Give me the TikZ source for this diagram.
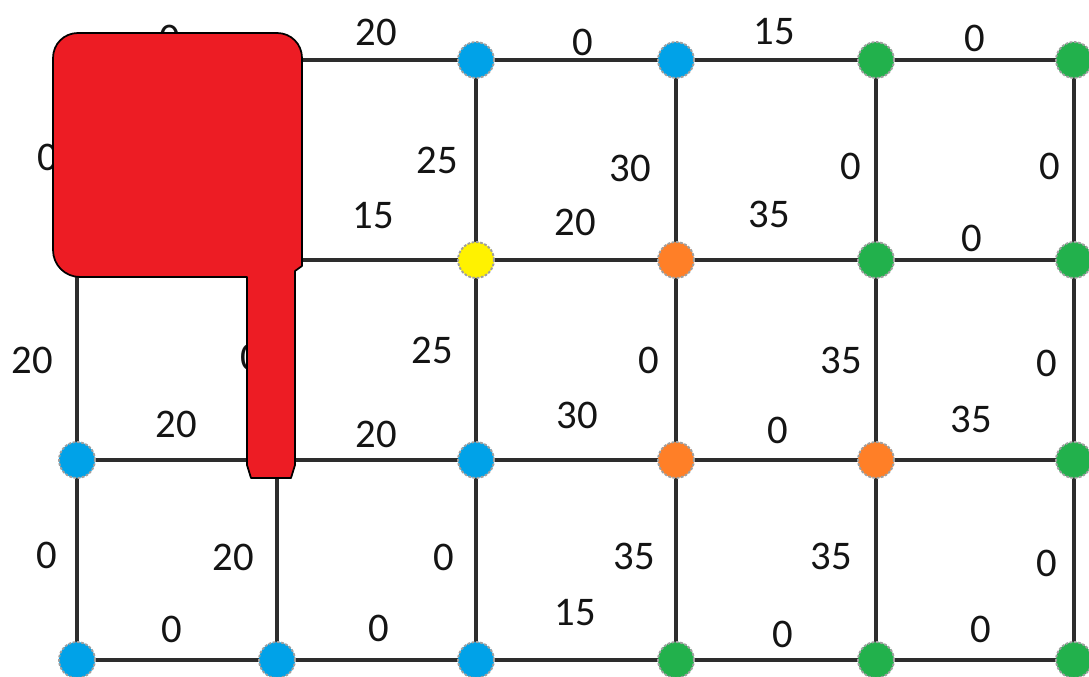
\documentclass[tikz,border=0pt]{standalone}
\usepackage{fontspec}
\setmainfont{Carlito}
\usetikzlibrary{backgrounds}
\definecolor{pblue}{RGB}{0,162,232}
\definecolor{pgreen}{RGB}{34,177,76}
\definecolor{porange}{RGB}{255,127,39}
\definecolor{pyellow}{RGB}{255,242,0}
\definecolor{pred}{RGB}{237,28,36}
\definecolor{edgegray}{RGB}{45,45,45}
\definecolor{txt}{RGB}{20,20,20}
\begin{document}
\begin{tikzpicture}[x=0.75pt,y=-0.75pt,
  vtx/.style={circle,minimum size=27pt,inner sep=0pt,outer sep=0pt,fill=#1,draw=gray!75,line width=1.4pt,dash pattern=on 2pt off 1.2pt},
  conn/.style={draw=edgegray,line width=2.5pt},
  lbl/.style={inner sep=0pt,text=txt,font=\fontsize{30.5pt}{36pt}\selectfont},
  blob/.style={fill=pred,draw=black,line width=1.3pt,line join=round}]
\useasboundingbox (0,0) rectangle (1089,677);
% hidden grid points (under the red shape)
\coordinate (n00) at (77,60);
\coordinate (n10) at (277,60);
\coordinate (n01) at (77,260);
\coordinate (n11) at (277,260);
\coordinate (n12) at (277,460);
% visible vertices
\node[vtx=pblue]   (n20) at (476,60) {};
\node[vtx=pblue]   (n30) at (676,60) {};
\node[vtx=pgreen]  (n40) at (876,60) {};
\node[vtx=pgreen]  (n50) at (1074,60) {};
\node[vtx=pyellow] (n21) at (476,260) {};
\node[vtx=porange] (n31) at (676,260) {};
\node[vtx=pgreen]  (n41) at (876,260) {};
\node[vtx=pgreen]  (n51) at (1074,260) {};
\node[vtx=pblue]   (n02) at (77,460) {};
\node[vtx=pblue]   (n22) at (476,460) {};
\node[vtx=porange] (n32) at (676,460) {};
\node[vtx=porange] (n42) at (876,460) {};
\node[vtx=pgreen]  (n52) at (1074,460) {};
\node[vtx=pblue]   (n03) at (77,660) {};
\node[vtx=pblue]   (n13) at (277,660) {};
\node[vtx=pblue]   (n23) at (476,660) {};
\node[vtx=pgreen]  (n33) at (676,660) {};
\node[vtx=pgreen]  (n43) at (876,660) {};
\node[vtx=pgreen]  (n53) at (1074,660) {};
% connectors
\begin{scope}[on background layer]
\fill[white] (0,0) rectangle (1089,677);
\foreach \r in {0,1,2,3}{
  \foreach \c/\d in {0/1,1/2,2/3,3/4,4/5}{
    \draw[conn] (n\c\r) -- (n\d\r);
  }
}
\foreach \c in {0,1,2,3,4,5}{
  \foreach \r/\s in {0/1,1/2,2/3}{
    \draw[conn] (n\c\r) -- (n\c\s);
  }
}
\end{scope}
% labels
\node[lbl] (l1) at (170,38) {0};
\node[lbl] (l2) at (376,32) {20};
\node[lbl] (l3) at (583,42) {0};
\node[lbl] (l4) at (774,32) {15};
\node[lbl] (l5) at (975,38) {0};
\node[lbl] (l6) at (48,157) {0};
\node[lbl] (l7) at (437,160) {25};
\node[lbl] (l8) at (630,168) {30};
\node[lbl] (l9) at (851,166) {0};
\node[lbl] (l10) at (1050,166) {0};
\node[lbl] (l11) at (373,216) {15};
\node[lbl] (l12) at (575,222) {20};
\node[lbl] (l13) at (769,214) {35};
\node[lbl] (l14) at (972,238) {0};
\node[lbl] (l15) at (32,360) {20};
\node[lbl] (l16) at (251,357) {0};
\node[lbl] (l17) at (432,350) {25};
\node[lbl] (l18) at (649,360) {0};
\node[lbl] (l19) at (841,360) {35};
\node[lbl] (l20) at (1047,363) {0};
\node[lbl] (l21) at (176,424) {20};
\node[lbl] (l22) at (376,434) {20};
\node[lbl] (l23) at (577,415) {30};
\node[lbl] (l24) at (778,430) {0};
\node[lbl] (l25) at (971,419) {35};
\node[lbl] (l26) at (47,555) {0};
\node[lbl] (l27) at (233,557) {20};
\node[lbl] (l28) at (444,557) {0};
\node[lbl] (l29) at (634,556) {35};
\node[lbl] (l30) at (831,556) {35};
\node[lbl] (l31) at (1047,563) {0};
\node[lbl] (l32) at (172,629) {0};
\node[lbl] (l33) at (379,628) {0};
\node[lbl] (l34) at (575,613) {15};
\node[lbl] (l35) at (783,634) {0};
\node[lbl] (l36) at (981,629) {0};
% red shape
\draw[blob] (78,33) -- (277,33) .. controls (291,33) and (302,44) .. (302,58)
  -- (302,266) -- (295,271) -- (295,465) -- (291,478) -- (251,478) -- (247,465)
  -- (247,277) -- (80,277) .. controls (65,277) and (53,265) .. (53,250)
  -- (53,58) .. controls (53,44) and (64,33) .. (78,33) -- cycle;
\end{tikzpicture}
\end{document}
